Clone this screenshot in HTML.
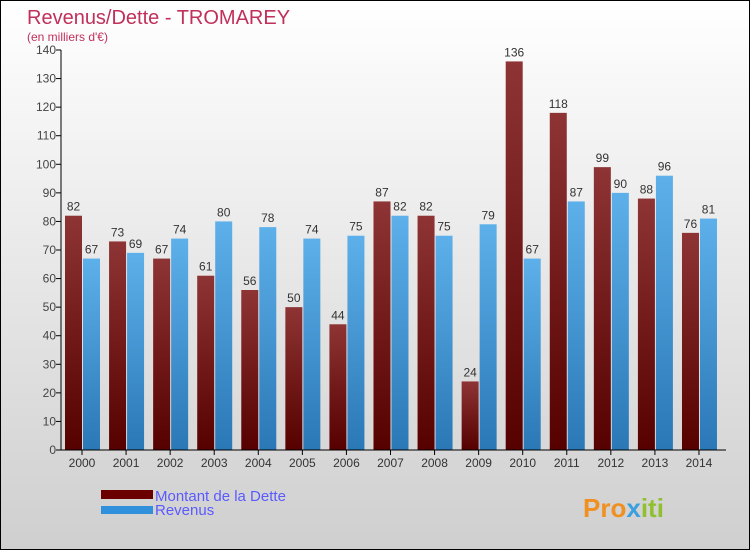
<!DOCTYPE html>
<html><head><meta charset="utf-8"><style>
body{margin:0}
#c{width:748px;height:548px;border:1px solid #000;position:relative;overflow:hidden;background:linear-gradient(#ffffff,#cfcfcf);font-family:"Liberation Sans",sans-serif}
</style></head><body>
<div id="c">
<svg id="s" width="748" height="548" xmlns="http://www.w3.org/2000/svg">
<defs>
<linearGradient id="gd" x1="0" y1="0" x2="0" y2="1"><stop offset="0" stop-color="#8e3434"/><stop offset="1" stop-color="#560000"/></linearGradient>
<linearGradient id="gr" x1="0" y1="0" x2="0" y2="1"><stop offset="0" stop-color="#5db0ea"/><stop offset="1" stop-color="#2a78b6"/></linearGradient>
</defs>
<text x="26" y="23" font-size="20" fill="#c0305a">Revenus/Dette - TROMAREY</text>
<text x="26" y="40" font-size="12" fill="#c0305a">(en milliers d'€)</text>
<g id="g"></g>
<rect x="100" y="489" width="52" height="9" fill="#6a0000"/>
<rect x="100" y="505" width="52" height="8" fill="#3090dc"/>
<text x="154" y="500" font-size="15" fill="#5a5aff">Montant de la Dette</text>
<text x="154" y="514" font-size="15" fill="#5a5aff">Revenus</text>
<text x="582" y="516" font-size="26" font-weight="bold" fill="#f09020">Pro<tspan fill="#3aa0e0">x</tspan><tspan fill="#90c030">iti</tspan></text>
</svg></div>
<script>
const years=["2000","2001","2002","2003","2004","2005","2006","2007","2008","2009","2010","2011","2012","2013","2014"];
const dette=[82,73,67,61,56,50,44,87,82,24,136,118,99,88,76];
const revenus=[67,69,74,80,78,74,75,82,75,79,67,87,90,96,81];
const yTicks=[0,10,20,30,40,50,60,70,80,90,100,110,120,130,140];
const NS="http://www.w3.org/2000/svg",g=document.getElementById('g');
const y=v=>449-v*400/140, x=i=>81+i*44.07;
function el(t,a,txt){const e=document.createElementNS(NS,t);for(const k in a)e.setAttribute(k,a[k]);if(txt!==undefined)e.textContent=txt;g.appendChild(e);return e;}
yTicks.forEach(t=>{
 const l=el('line',{x1:55,x2:60,y1:y(t),y2:y(t),stroke:'#000'});
 
 
 const tx=el('text',{x:55,y:y(t)+4,'font-size':12,fill:'#444','text-anchor':'end'},t);
 
 
});
years.forEach((yr,i)=>{
 const cx=x(i);
 const b1=el('rect',{x:cx-17,y:y(dette[i]),width:17,height:y(0)-y(dette[i]),fill:'url(#gd)'});
 
 
 const b2=el('rect',{x:cx+1,y:y(revenus[i]),width:17,height:y(0)-y(revenus[i]),fill:'url(#gr)'});
 
 
 const t1=el('text',{x:cx-8.5,y:y(dette[i])-5,'font-size':12,fill:'#333','text-anchor':'middle'},dette[i]);
 
 
 const t2=el('text',{x:cx+9.5,y:y(revenus[i])-5,'font-size':12,fill:'#333','text-anchor':'middle'},revenus[i]);
 
 
 const tk=el('line',{x1:cx,x2:cx,y1:y(0),y2:y(0)+5,stroke:'#000'});
 
 
 const xl=el('text',{x:cx,y:466,'font-size':12,fill:'#333','text-anchor':'middle'},yr);
 
 
});
const ya=el('line',{x1:60,x2:60,y1:y(140),y2:y(0),stroke:'#000'});


const xa=el('line',{x1:60,x2:725,y1:y(0),y2:y(0),stroke:'#000'});


</script>
</body></html>
